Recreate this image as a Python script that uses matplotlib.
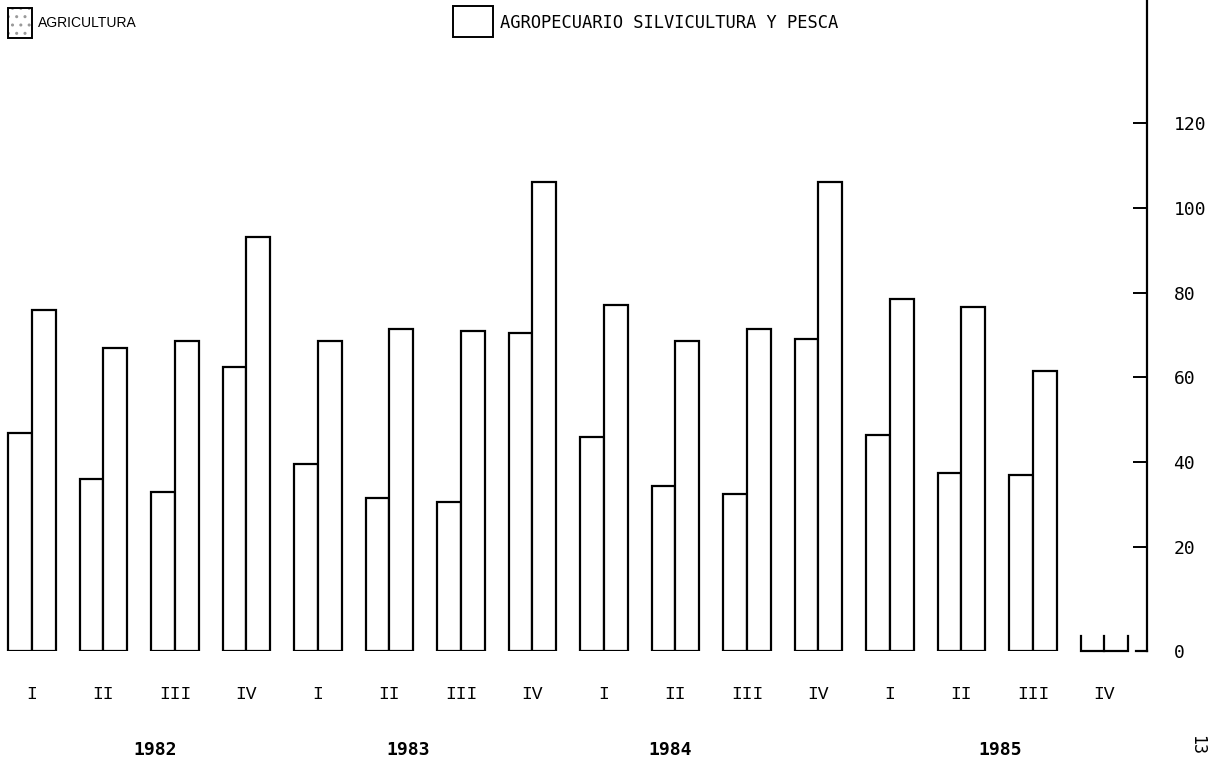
import numpy as np
import matplotlib
matplotlib.use("Agg")
import matplotlib.pyplot as plt
import matplotlib.transforms as mtransforms
from matplotlib.patches import Rectangle

# ---- data ----
quarters = ["I", "II", "III", "IV"] * 4
years = ["1982", "1983", "1984", "1985"]
agricultura = [47, 36, 33, 62.5, 39.5, 31.5, 30.5, 70.5, 46, 34.5, 32.5, 69, 46.5, 37.5, 37, np.nan]
agropecuario = [76, 67, 68.5, 93, 68.5, 71.5, 71, 106, 77, 68.5, 71.5, 106, 78.5, 76.5, 61.5, np.nan]
y_ticks = [0, 20, 40, 60, 80, 100, 120]
legend_labels = ["AGRICULTURA", "AGROPECUARIO SILVICULTURA Y PESCA"]
page_number = "13"

# ---- layout ----
W, H = 1214, 767
fig = plt.figure(figsize=(W / 100, H / 100), dpi=100)
base_px = 651
axis_px = 1147
ax = fig.add_axes([0, (H - base_px) / H, axis_px / W, base_px / H])

px_per_group = 71.5
first_center_px = 32
x0 = -first_center_px / px_per_group
x1 = (axis_px - first_center_px) / px_per_group
ax.set_xlim(x0, x1)

# axis drawn: 20..120 linear, baseline slightly below the 20-step extrapolated zero
px_per_unit = 4.24
zero_px = 631.8
ybase = -(base_px - zero_px) / px_per_unit
ytop = zero_px / px_per_unit
ax.set_ylim(ybase, ytop)

centers = np.arange(len(quarters))
bw = 0.335
agri = np.array(agricultura, dtype=float)
agro = np.array(agropecuario, dtype=float)
valid = ~np.isnan(agri)

ax.bar(centers[valid] - bw, agri[valid] - ybase, width=bw, bottom=ybase, align="edge",
       facecolor="white", edgecolor="black", linewidth=1.6, zorder=3)
ax.bar(centers[valid], agro[valid] - ybase, width=bw, bottom=ybase, align="edge",
       facecolor="white", edgecolor="black", linewidth=1.6, zorder=3)

# stubs for the quarter without data
stub_h = 3.5
for c in centers[~valid]:
    xs = [c - bw, c - bw, c + bw, c + bw]
    ys = [ybase + stub_h, ybase, ybase, ybase + stub_h]
    ax.plot(xs, ys, color="black", lw=1.6, clip_on=False, solid_joinstyle="miter")
    ax.plot([c, c], [ybase, ybase + stub_h], color="black", lw=1.6, clip_on=False)

# spines
for s in ["left", "top", "bottom"]:
    ax.spines[s].set_visible(False)
ax.spines["right"].set_linewidth(1.6)
ax.plot([1 - 11 / axis_px, 1], [0, 0], transform=ax.transAxes, color="black",
        lw=1.6, clip_on=False)

# y ticks
tick_pos = [ybase] + y_ticks[1:]
ax.yaxis.tick_right()
ax.set_yticks(tick_pos)
ax.set_yticklabels([str(v) for v in y_ticks], family="DejaVu Sans Mono", fontsize=13)
ax.tick_params(axis="y", direction="in", length=10, width=1.4, pad=19)
ax.yaxis.get_major_ticks()[0].tick2line.set_visible(False)

# x ticks (quarters)
ax.set_xticks(centers)
ax.set_xticklabels(quarters, family="Liberation Mono", fontsize=13)
ax.tick_params(axis="x", length=0, pad=25)

# years
year_x = [1.72, 5.26, 8.92, 13.54]
year_tr = mtransforms.blended_transform_factory(ax.transData, fig.transFigure)
for yx, yl in zip(year_x, years):
    ax.text(yx, 1 - 750 / H, yl, transform=year_tr, ha="center", va="center",
            fontsize=13, fontweight="bold", family="DejaVu Sans Mono")

fig.text(1197 / W, 1 - 745 / H, page_number, rotation=-90, ha="center", va="center",
         fontsize=12, family="DejaVu Sans Mono")

# legend (manual)
def fig_rect(x, y, w, h):
    return (x / W, 1 - (y + h) / H, w / W, h / H)

rx, ry, rw, rh = fig_rect(8, 8, 24, 30)
inner = Rectangle((rx, ry), rw, rh, transform=fig.transFigure, facecolor="white",
                  edgecolor="#9a9a9a", hatch="..", lw=0)
outer = Rectangle((rx, ry), rw, rh, transform=fig.transFigure, fill=False,
                  edgecolor="black", lw=1.4)
fig.patches.extend([inner, outer])
fig.text(38 / W, 1 - 23 / H, legend_labels[0], ha="left", va="center",
         family="Liberation Sans", fontsize=10)

rx, ry, rw, rh = fig_rect(453, 6, 40, 31)
box2 = Rectangle((rx, ry), rw, rh, transform=fig.transFigure, facecolor="white",
                 edgecolor="black", lw=1.4)
fig.patches.append(box2)
fig.text(500 / W, 1 - 23 / H, legend_labels[1], ha="left", va="center",
         family="DejaVu Sans Mono", fontsize=12.3)

fig.savefig("out.png", dpi=100)
